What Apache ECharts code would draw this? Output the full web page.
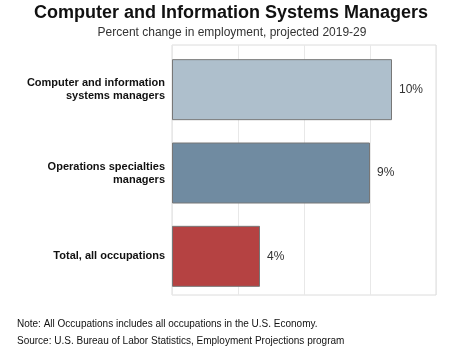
<!DOCTYPE html>
<html>
<head>
<meta charset="utf-8">
<script src="https://cdn.jsdelivr.net/npm/echarts@6/dist/echarts.min.js"></script>
<style>
  html, body { margin: 0; padding: 0; background: #fff; }
  #chart { width: 449px; height: 349px; }
</style>
</head>
<body>
<div id="chart"></div>
<script>
// Occupations, top to bottom
const categories = [
  'Computer and information\nsystems managers',
  'Operations specialties\nmanagers',
  'Total, all occupations'
];
// Projected percent change in employment, 2019-29
const values = [10, 9, 4];
const barColors = ['#aebfcc', '#708ba1', '#b54242'];

const axisMax = 12;
const axisStep = 3;

const chart = echarts.init(document.getElementById('chart'), null, { renderer: 'canvas' });

const bodyFont = 'Tahoma, "Liberation Sans", Arial, sans-serif';

chart.setOption({
  animation: false,
  backgroundColor: '#fff',
  title: [
    {
      text: 'Computer and Information Systems Managers',
      left: 231, top: 4, textAlign: 'center', padding: 0,
      textStyle: { fontFamily: '"Liberation Sans", Arial, sans-serif', fontWeight: 'bold', fontSize: 18, color: '#111' }
    },
    {
      text: 'Percent change in employment, projected 2019-29',
      left: 232, top: 27, textAlign: 'center', padding: 0,
      textStyle: { fontFamily: bodyFont, fontWeight: 'normal', fontSize: 12, color: '#333' }
    },
    {
      text: 'Note: All Occupations includes all occupations in the U.S. Economy.\nSource: U.S. Bureau of Labor Statistics, Employment Projections program',
      left: 17, top: 316, padding: 0,
      textStyle: { fontFamily: bodyFont, fontWeight: 'normal', fontSize: 10, lineHeight: 17, color: '#111' }
    }
  ],
  grid: [
    // frame and vertical gridlines
    { left: 172, top: 45, width: 264, height: 250, show: true, borderColor: '#dcdcdc', borderWidth: 1, containLabel: false },
    // bars and category labels
    { left: 172, top: 48, width: 264, height: 250, containLabel: false }
  ],
  xAxis: [
    {
      gridIndex: 0, type: 'value', min: 0, max: axisMax, interval: axisStep,
      axisLabel: { show: false }, axisLine: { show: false }, axisTick: { show: false },
      splitLine: { show: true, lineStyle: { color: '#e8e8e8', width: 1 } }
    },
    {
      gridIndex: 1, type: 'value', min: 0, max: axisMax, interval: axisStep,
      axisLabel: { show: false }, axisLine: { show: false }, axisTick: { show: false },
      splitLine: { show: false }
    }
  ],
  yAxis: [
    {
      gridIndex: 0, type: 'category', data: categories, inverse: true,
      axisLabel: { show: false }, axisLine: { show: false }, axisTick: { show: false }
    },
    {
      gridIndex: 1, type: 'category', data: categories, inverse: true,
      axisLine: { show: false }, axisTick: { show: false },
      axisLabel: {
        margin: 7, color: '#111', fontFamily: '"Liberation Sans", Arial, sans-serif',
        fontWeight: 'bold', fontSize: 11, lineHeight: 13, align: 'right'
      }
    }
  ],
  series: [
    {
      type: 'bar', xAxisIndex: 1, yAxisIndex: 1,
      data: values.map((v, i) => ({ value: v, itemStyle: { color: barColors[i] } })),
      barWidth: 61,
      itemStyle: { borderColor: '#777', borderWidth: 1 },
      label: {
        show: true, position: 'right', distance: 7,
        formatter: p => p.value + '%',
        fontFamily: bodyFont, fontSize: 12, color: '#333'
      }
    }
  ]
});
</script>
</body>
</html>
